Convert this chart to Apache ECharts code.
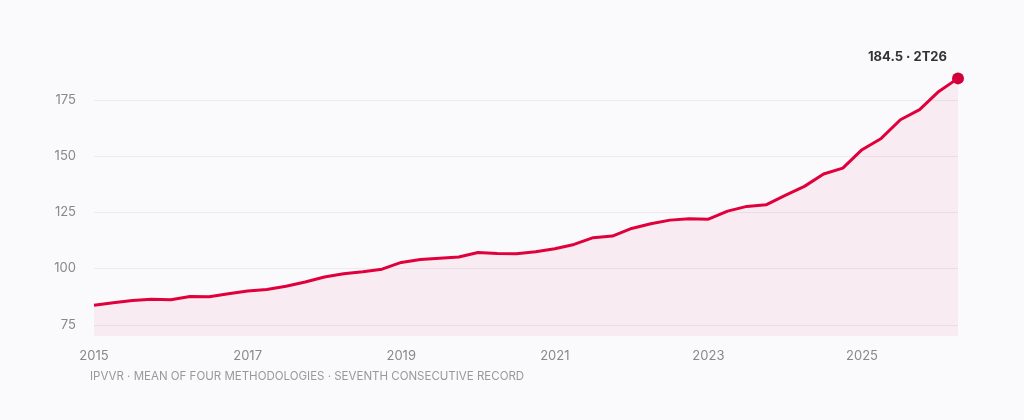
<!DOCTYPE html>
<html><head><meta charset="utf-8">
<script src="https://cdn.jsdelivr.net/npm/echarts@6/dist/echarts.min.js"></script>
<style>html,body{margin:0;padding:0;background:#fafafc}#c{width:1024px;height:420px}</style>
</head><body><div id="c"></div>
<script>
const quarters = [];
for (let y = 15; y <= 26; y++) for (let q = 1; q <= 4; q++) { if (y === 26 && q > 2) break; quarters.push(q + 'T' + y); }
const values = [83.7,84.8,85.8,86.3,86.1,87.6,87.4,88.8,90.0,90.7,92.1,94.0,96.2,97.7,98.6,99.7,
102.7,104.0,104.6,105.1,107.1,106.7,106.6,107.4,108.8,110.7,113.7,114.4,117.8,119.9,121.5,122.1,
121.9,125.5,127.6,128.3,132.5,136.5,142.0,144.6,152.8,157.8,166.1,170.6,178.7,184.5];
const gridValues = [75,100,125,150,175];
const lastLabel = '184.5 · 2T26';
const caption = 'IPVVR · MEAN OF FOUR METHODOLOGIES · SEVENTH CONSECUTIVE RECORD';

const chart = echarts.init(document.getElementById('c'));
const lastIdx = values.length - 1;
chart.setOption({
  backgroundColor: '#fafafc',
  animation: false,
  textStyle: { fontFamily: 'Inter' },
  grid: { left: 94, right: 66, top: 66, bottom: 84 },
  graphic: [{ type: 'text', left: 90, top: 371, style: { text: caption, fill: '#999', fontSize: 11.5, fontFamily: 'Inter' } }],
  xAxis: {
    type: 'category', data: quarters, boundaryGap: false,
    axisLine: { show: false }, axisTick: { show: false },
    axisLabel: { interval: 7, color: '#888', fontSize: 13, margin: 14,
      formatter: v => '20' + v.slice(2) }
  },
  yAxis: {
    type: 'value', min: 70, max: 190, interval: 5,
    splitLine: { show: false }, axisLine: { show: false }, axisTick: { show: false },
    axisLabel: { color: '#888', fontSize: 13, margin: 18, formatter: v => v % 25 === 0 ? String(v) : '' }
  },
  series: [{
    type: 'line', data: [], silent: true,
    markLine: { silent: true, symbol: 'none', label: { show: false },
      lineStyle: { color: '#ebebf0', type: 'solid', width: 1 },
      data: gridValues.map(v => ({ yAxis: v })) }
  }, {
    type: 'line', data: values, symbol: 'none', zlevel: 1,
    lineStyle: { color: '#e0003c', width: 3 },
    areaStyle: { color: 'rgba(225,0,75,0.08)' },
    markPoint: { symbol: 'circle', symbolSize: 12, itemStyle: { color: '#d0003a' },
      label: { show: true, position: [-84, -22], formatter: lastLabel, color: '#333', fontWeight: 'bold', fontSize: 13 },
      data: [{ coord: [lastIdx, values[lastIdx]] }] }
  }]
});
</script></body></html>
